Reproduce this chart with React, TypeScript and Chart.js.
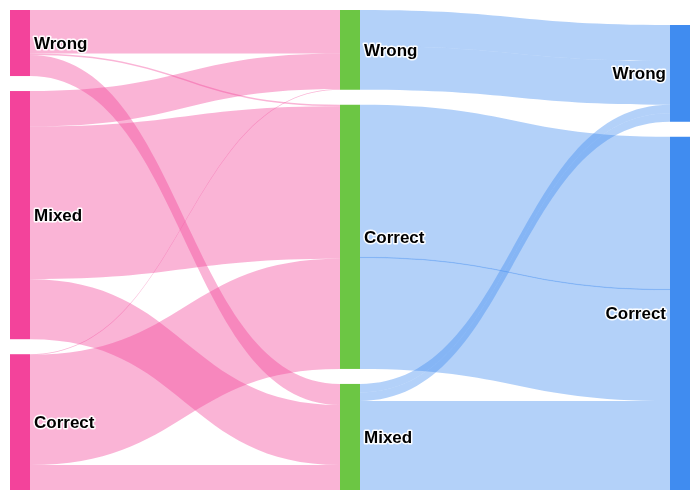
import React, { useEffect, useRef } from 'react';
import { Chart, registerables } from 'chart.js';

Chart.register(...registerables);

// ---- Data ----
const nodeLabels = ['Wrong', 'Mixed', 'Correct', 'Wrong', 'Correct', 'Mixed', 'Wrong', 'Correct'];
const nodeColumns = [0, 0, 0, 1, 1, 1, 2, 2];
const linkSources = [0, 0, 0, 1, 1, 1, 2, 2, 2, 3, 3, 4, 4, 4, 5, 5, 5, 5, 5];
const linkTargets = [3, 4, 5, 3, 4, 5, 3, 4, 5, 6, 6, 7, 7, 7, 6, 6, 7, 7, 7];
const linkValues = [43.5, 1.5, 21, 35.5, 152.5, 60, 0.7, 110, 25, 36, 43.7, 152, 1.5, 110.5, 8.5, 8.5, 53, 15, 21];

// ---- Styles / layout constants ----
const columnColors = ['#f3439b', '#6cc644', '#408cf0'];
const stageLinkColors = ['rgba(243,67,153,0.4)', 'rgba(64,140,240,0.4)'];
const emphasisLinkColor = 'rgba(64,140,240,0.64)';
const emphasisLinks = [12];
const NODE_WIDTH = 20;
const NODE_PAD_PX = 15;
const PLOT_H = 480;

// ---- Layout (in value units) ----
function computeLayout() {
  const n = nodeLabels.length;
  const inV = new Array(n).fill(0);
  const outV = new Array(n).fill(0);
  linkValues.forEach((v, i) => {
    outV[linkSources[i]] += v;
    inV[linkTargets[i]] += v;
  });
  const nodeVal = inV.map((v, i) => Math.max(v, outV[i]));
  const nCols = Math.max(...nodeColumns) + 1;
  const cols: number[][] = [];
  for (let c = 0; c < nCols; c++) cols.push([]);
  nodeColumns.forEach((c, i) => cols[c].push(i));
  let ky = Infinity;
  cols.forEach((col) => {
    const tot = col.reduce((s, i) => s + nodeVal[i], 0);
    ky = Math.min(ky, (PLOT_H - (col.length - 1) * NODE_PAD_PX) / tot);
  });
  const pad = NODE_PAD_PX / ky;
  const yMax = PLOT_H / ky;
  const y0 = new Array(n).fill(0);
  cols.forEach((col, c) => {
    const h = col.reduce((s, i) => s + nodeVal[i], 0) + (col.length - 1) * pad;
    let y = c === nCols - 1 ? yMax - h : 0;
    col.forEach((i) => {
      y0[i] = y;
      y += nodeVal[i] + pad;
    });
  });
  const L = linkValues.length;
  const sy = new Array(L).fill(0);
  const ty = new Array(L).fill(0);
  for (let nd = 0; nd < n; nd++) {
    const outs = linkValues.map((_, i) => i).filter((i) => linkSources[i] === nd);
    outs.sort((a, b) => y0[linkTargets[a]] - y0[linkTargets[b]] || a - b);
    let y = y0[nd];
    outs.forEach((i) => {
      sy[i] = y;
      y += linkValues[i];
    });
    const ins = linkValues.map((_, i) => i).filter((i) => linkTargets[i] === nd);
    ins.sort((a, b) => y0[linkSources[a]] - y0[linkSources[b]] || a - b);
    y = y0[nd];
    ins.forEach((i) => {
      ty[i] = y;
      y += linkValues[i];
    });
  }
  return { nodeVal, y0, sy, ty, yMax, nCols };
}

const layout = computeLayout();

const sankeyPlugin = {
  id: 'sankeyDraw',
  afterDraw(chart: any) {
    const ctx = chart.ctx as CanvasRenderingContext2D;
    const xs = chart.scales.x;
    const ys = chart.scales.y;
    const { nodeVal, y0, sy, ty, nCols } = layout;
    ctx.save();
    linkValues.forEach((v, i) => {
      const s = linkSources[i];
      const t = linkTargets[i];
      const cs = nodeColumns[s];
      const ct = nodeColumns[t];
      const x0 = xs.getPixelForValue(cs) + NODE_WIDTH / 2;
      const x1 = xs.getPixelForValue(ct) - NODE_WIDTH / 2;
      const xm = (x0 + x1) / 2;
      const a0 = ys.getPixelForValue(sy[i]);
      const a1 = ys.getPixelForValue(sy[i] + v);
      const b0 = ys.getPixelForValue(ty[i]);
      const b1 = ys.getPixelForValue(ty[i] + v);
      ctx.beginPath();
      ctx.moveTo(x0, a0);
      ctx.bezierCurveTo(xm, a0, xm, b0, x1, b0);
      ctx.lineTo(x1, b1);
      ctx.bezierCurveTo(xm, b1, xm, a1, x0, a1);
      ctx.closePath();
      ctx.fillStyle = emphasisLinks.includes(i) ? emphasisLinkColor : stageLinkColors[cs];
      ctx.fill();
    });
    nodeLabels.forEach((_, i) => {
      const c = nodeColumns[i];
      const xc = xs.getPixelForValue(c);
      const top = ys.getPixelForValue(y0[i]);
      const bot = ys.getPixelForValue(y0[i] + nodeVal[i]);
      ctx.fillStyle = columnColors[c];
      ctx.fillRect(xc - NODE_WIDTH / 2, top, NODE_WIDTH, bot - top);
    });
    ctx.font = 'bold 17px "Liberation Sans", Arial, sans-serif';
    ctx.textBaseline = 'middle';
    ctx.lineJoin = 'round';
    nodeLabels.forEach((lab, i) => {
      const c = nodeColumns[i];
      const xc = xs.getPixelForValue(c);
      const yc = ys.getPixelForValue(y0[i] + nodeVal[i] / 2) + 1;
      let x: number;
      if (c === nCols - 1) {
        ctx.textAlign = 'right';
        x = xc - NODE_WIDTH / 2 - 4;
      } else {
        ctx.textAlign = 'left';
        x = xc + NODE_WIDTH / 2 + 4;
      }
      ctx.strokeStyle = 'rgba(255,255,255,0.95)';
      ctx.lineWidth = 3;
      ctx.strokeText(lab, x, yc);
      ctx.fillStyle = '#000';
      ctx.fillText(lab, x, yc);
    });
    ctx.restore();
  },
};

export default function App() {
  const ref = useRef<HTMLCanvasElement | null>(null);
  useEffect(() => {
    if (!ref.current) return;
    const chart = new Chart(ref.current, {
      type: 'scatter',
      data: { datasets: [{ data: [], pointRadius: 0 }] },
      options: {
        responsive: false,
        animation: false,
        devicePixelRatio: 1,
        layout: { padding: { left: 20, right: 20, top: 10, bottom: 10 } },
        plugins: { legend: { display: false }, tooltip: { enabled: false } },
        scales: {
          x: { type: 'linear', min: 0, max: layout.nCols - 1, display: false },
          y: { type: 'linear', min: 0, max: layout.yMax, reverse: true, display: false },
        },
      },
      plugins: [sankeyPlugin],
    } as any);
    return () => chart.destroy();
  }, []);
  return (
    <div style={{ position: 'fixed', left: 0, top: 0, width: 700, height: 500, background: '#fff' }}>
      <canvas ref={ref} width={700} height={500} style={{ width: 700, height: 500 }} />
    </div>
  );
}
